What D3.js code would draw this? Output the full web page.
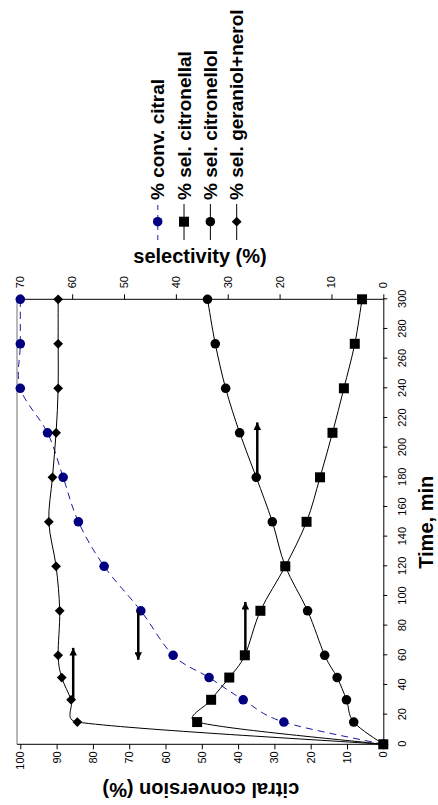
<!DOCTYPE html>
<html>
<head>
<meta charset="utf-8">
<script src="https://cdn.jsdelivr.net/npm/d3@7"></script>
<style>
body { margin: 0; background: #fff; }
svg { display: block; font-family: "Liberation Sans", Arial, sans-serif; }
.axis text { font-size: 11px; fill: #000; }
.axis line, .axis path { stroke: #000; }
</style>
</head>
<body>
<div class="chart"></div>
<script>
var times = [0, 15, 30, 45, 60, 90, 120, 150, 180, 210, 240, 270, 300]
var convCitral = [0, 27.4, 38.6, 48.0, 57.9, 66.8, 76.9, 84.0, 88.2, 92.5, 100, 100, 100]
var selCitronellal = [0, 35.9, 33.2, 29.7, 26.7, 23.7, 18.9, 14.8, 12.2, 9.8, 7.6, 5.5, 4.1]
var selCitronellol = [0, 5.7, 7.1, 8.9, 11.3, 14.6, 18.9, 21.4, 24.5, 27.7, 30.4, 32.4, 33.9]
var selGeraniolNerol = [0, 59.0, 60.2, 62.0, 62.7, 62.4, 63.1, 64.5, 63.8, 63.1, 62.7, 62.7, 62.7]

var timeTicks = d3.range(0, 301, 20)
var convTicks = d3.range(0, 101, 10)
var selTicks = d3.range(0, 71, 10)

var legendLabels = ["% conv. citral", "% sel. citronellal", "% sel. citronellol", "% sel. geraniol+nerol"]
var legendSymbols = ["circle", "square", "circle", "diamond"]

// arrows telling which axis each curve belongs to
var arrowAxis = ["sel", "conv", "sel", "sel"]
var arrowValue = [59.8, 67.5, 26.6, 24.3]
var arrowFrom = [30, 90, 60, 180]
var arrowTo = [65, 57, 96, 217]

var W = 438, H = 805;

var svg = d3.select('.chart').append('svg')
	.attr('width', W)
	.attr('height', H);

// the whole chart is drawn the usual way and then turned a quarter turn
var g = svg.append('g')
	.attr('transform', 'translate(0,' + H + ') rotate(-90)');

var x = d3.scaleLinear().domain([0, 300]).range([60.7, 505.7]);
var yConv = d3.scaleLinear().domain([0, 100]).range([383.3, 20.3]);
var ySel = d3.scaleLinear().domain([0, 70]).range([383.3, 20.3]);
var frameTop = 17;

svg.append('defs').append('marker')
	.attr('id', 'arrowhead')
	.attr('viewBox', '0 0 10 10')
	.attr('refX', 10)
	.attr('refY', 5)
	.attr('markerUnits', 'userSpaceOnUse')
	.attr('markerWidth', 9)
	.attr('markerHeight', 7.5)
	.attr('orient', 'auto')
	.append('path')
	.attr('d', 'M0,0L10,5L0,10Z')
	.attr('fill', '#000');

// frame: grey top border, black axis lines
g.append('line')
	.attr('x1', x(0)).attr('x2', x(300))
	.attr('y1', frameTop).attr('y2', frameTop)
	.attr('stroke', '#a0a0a0').attr('stroke-width', 1.5);
g.append('line')
	.attr('x1', x(0)).attr('x2', x(0))
	.attr('y1', frameTop).attr('y2', yConv(0))
	.attr('stroke', '#000');
g.append('line')
	.attr('x1', x(300)).attr('x2', x(300))
	.attr('y1', frameTop).attr('y2', ySel(0))
	.attr('stroke', '#000');

g.append('g')
	.attr('class', 'axis')
	.attr('transform', 'translate(0,' + yConv(0) + ')')
	.call(d3.axisBottom(x).tickValues(timeTicks).tickSize(4).tickPadding(11).tickSizeOuter(0));

var leftAxis = g.append('g')
	.attr('class', 'axis')
	.attr('transform', 'translate(' + x(0) + ',0)')
	.call(d3.axisLeft(yConv).tickValues(convTicks).tickSize(5).tickPadding(2).tickSizeOuter(0));
leftAxis.select('.domain').remove();

var rightAxis = g.append('g')
	.attr('class', 'axis')
	.attr('transform', 'translate(' + x(300) + ',0)')
	.call(d3.axisRight(ySel).tickValues(selTicks).tickSize(5).tickPadding(6).tickSizeOuter(0));
rightAxis.select('.domain').remove();

// spreadsheet style smoothing: bezier legs of 1/6 of the neighbour span,
// but never longer than a part of the segment itself (keeps short segments tame)
function smoothLine(scale, vals) {
	var pts = vals.map(function (d, i) { return [x(times[i]), scale(d)]; });
	var f = 1 / 6, lim = 0.6;
	var p = d3.path();
	p.moveTo(pts[0][0], pts[0][1]);
	for (var i = 0; i < pts.length - 1; i++) {
		var p0 = pts[Math.max(i - 1, 0)], p1 = pts[i], p2 = pts[i + 1], p3 = pts[Math.min(i + 2, pts.length - 1)];
		var seg = Math.hypot(p2[0] - p1[0], p2[1] - p1[1]);
		var t1 = [(p2[0] - p0[0]) * f, (p2[1] - p0[1]) * f];
		var t2 = [(p3[0] - p1[0]) * f, (p3[1] - p1[1]) * f];
		var l1 = Math.hypot(t1[0], t1[1]), l2 = Math.hypot(t2[0], t2[1]);
		if (l1 > lim * seg) { t1 = [t1[0] * lim * seg / l1, t1[1] * lim * seg / l1]; }
		if (l2 > lim * seg) { t2 = [t2[0] * lim * seg / l2, t2[1] * lim * seg / l2]; }
		p.bezierCurveTo(p1[0] + t1[0], p1[1] + t1[1], p2[0] - t2[0], p2[1] - t2[1], p2[0], p2[1]);
	}
	return p.toString();
}

function symbolPath(type) {
	if (type == "square") return d3.symbol().type(d3.symbolSquare).size(100)();
	if (type == "diamond") return d3.symbol().type(d3.symbolSquare).size(48)();
	return d3.symbol().type(d3.symbolCircle).size(72)();
}

function drawSeries(vals, scale, type, color, dashed) {
	g.append('path')
		.attr('d', smoothLine(scale, vals))
		.attr('fill', 'none')
		.attr('stroke', dashed ? '#1a1a9e' : '#000')
		.attr('stroke-width', 1)
		.attr('stroke-dasharray', dashed ? '7,5' : null);

	g.selectAll(null)
		.data(vals)
		.enter().append('path')
		.attr('d', symbolPath(type))
		.attr('transform', function (d, i) {
			return 'translate(' + x(times[i]) + ',' + scale(d) + ')' + (type == "diamond" ? ' rotate(45)' : '');
		})
		.attr('fill', color);
}

drawSeries(convCitral, yConv, "circle", "#000080", true);
drawSeries(selCitronellal, ySel, "square", "#000", false);
drawSeries(selCitronellol, ySel, "circle", "#000", false);
drawSeries(selGeraniolNerol, ySel, "diamond", "#000", false);

g.selectAll('.arrow')
	.data(arrowValue)
	.enter().append('line')
	.attr('class', 'arrow')
	.attr('x1', function (d, i) { return x(arrowFrom[i]); })
	.attr('x2', function (d, i) { return x(arrowTo[i]); })
	.attr('y1', function (d, i) { return arrowAxis[i] == "conv" ? yConv(d) : ySel(d); })
	.attr('y2', function (d, i) { return arrowAxis[i] == "conv" ? yConv(d) : ySel(d); })
	.attr('stroke', '#000')
	.attr('stroke-width', 2.5)
	.attr('marker-end', 'url(#arrowhead)');

// axis titles
g.append('text')
	.attr('transform', 'translate(' + (x(150) - 0.5) + ',433)')
	.attr('text-anchor', 'middle')
	.style('font-size', '20px')
	.style('font-weight', 'bold')
	.text('Time, min');

g.append('text')
	.attr('transform', 'translate(22,200.8) rotate(-90)')
	.attr('text-anchor', 'middle')
	.style('font-size', '20px')
	.style('font-weight', 'bold')
	.text('citral conversion (%)');

g.append('text')
	.attr('transform', 'translate(541.7,200) rotate(90)')
	.attr('text-anchor', 'middle')
	.style('font-size', '20px')
	.style('font-weight', 'bold')
	.text('selectivity (%)');

// legend
var legend = g.selectAll('.legend')
	.data(legendLabels)
	.enter().append('g')
	.attr('class', 'legend')
	.attr('transform', function (d, i) { return 'translate(0,' + (157.7 + i * 26.33) + ')'; });

legend.append('line')
	.attr('x1', 565).attr('x2', 601)
	.attr('stroke', function (d, i) { return i == 0 ? '#6a6ac0' : '#000'; })
	.attr('stroke-width', function (d, i) { return i == 0 ? 1.5 : 1; })
	.attr('stroke-dasharray', function (d, i) { return i == 0 ? '5,5' : null; });

legend.append('path')
	.attr('d', function (d, i) { return symbolPath(legendSymbols[i]); })
	.attr('transform', function (d, i) { return 'translate(583.3,0)' + (legendSymbols[i] == "diamond" ? ' rotate(45)' : ''); })
	.attr('fill', function (d, i) { return i == 0 ? '#000080' : '#000'; });

legend.append('text')
	.attr('x', 605)
	.attr('dy', '0.35em')
	.style('font-size', '19px')
	.style('font-weight', 'bold')
	.text(function (d) { return d; });
</script>
</body>
</html>
